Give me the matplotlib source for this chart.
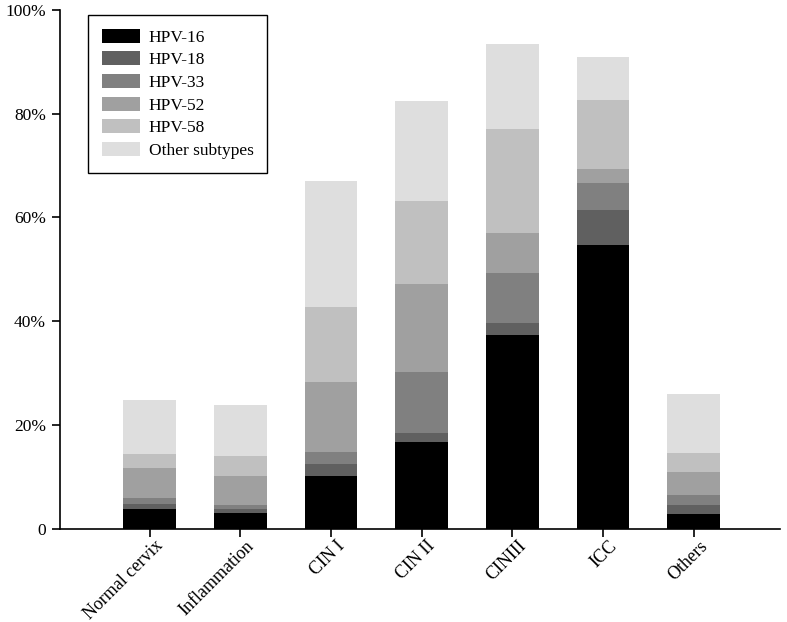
import numpy as np
import matplotlib
matplotlib.use('Agg')
import matplotlib.pyplot as plt
import matplotlib.transforms as mtransforms
from matplotlib.ticker import FuncFormatter

plt.rcParams['font.family'] = ['Liberation Serif', 'DejaVu Serif']

# groups along the x axis
groups = ['Normal cervix', 'Inflammation', 'CIN I', 'CIN II', 'CINIII', 'ICC', 'Others']

# percentage of each subtype per group (stacked)
hpv16 = [3.8, 3.0, 10.3, 16.8, 37.4, 54.7, 2.9]
hpv18 = [1.1, 0.8, 2.3, 1.6, 2.3, 6.7, 1.7]
hpv33 = [1.1, 0.8, 2.3, 11.9, 9.5, 5.3, 2.0]
hpv52 = [5.8, 5.7, 13.5, 16.8, 7.8, 2.7, 4.4]
hpv58 = [2.7, 3.8, 14.4, 16.0, 20.1, 13.2, 3.7]
other = [10.4, 9.7, 24.3, 19.4, 16.3, 8.2, 11.3]

series_names = ['HPV-16', 'HPV-18', 'HPV-33', 'HPV-52', 'HPV-58', 'Other subtypes']
series = [hpv16, hpv18, hpv33, hpv52, hpv58, other]
colors = ['#000000', '#606060', '#808080', '#a0a0a0', '#c0c0c0', '#dedede']

fig = plt.figure(figsize=(7.87, 6.22), dpi=100)
ax = fig.add_axes([0.076, 0.1495, 0.915, 0.835])

x = np.arange(len(groups))
bottom = np.zeros(len(groups))
for name, vals, c in zip(series_names, series, colors):
    ax.bar(x, vals, width=0.58, bottom=bottom, color=c, label=name, linewidth=0)
    bottom += np.array(vals)

ax.set_xlim(-0.99, 6.95)
ax.set_ylim(0, 100)
ax.set_yticks([0, 20, 40, 60, 80, 100])
ax.yaxis.set_major_formatter(FuncFormatter(lambda v, p: '0' if v == 0 else '%d%%' % v))
ax.set_xticks(x)
ax.set_xticklabels(groups, rotation=45, ha='right', va='top', rotation_mode='anchor')

for s in ['top', 'right']:
    ax.spines[s].set_visible(False)
ax.spines['left'].set_linewidth(1.2)
ax.spines['bottom'].set_linewidth(1.2)
ax.tick_params(axis='both', direction='out', length=6, width=1.2, labelsize=12.5, pad=4)
ax.tick_params(axis='x', labelsize=13, pad=3)

# nudge the rotated labels right and up a little, like the original
offset = mtransforms.ScaledTranslation(5 / 100, 4 / 100, fig.dpi_scale_trans)
for lab in ax.get_xticklabels():
    lab.set_transform(lab.get_transform() + offset)

leg = ax.legend(loc='upper left', bbox_to_anchor=(0.039, 0.99), borderaxespad=0,
                fancybox=False, framealpha=1, edgecolor='black', fontsize=12.5,
                handlelength=2.2, handleheight=0.85, labelspacing=0.33,
                handletextpad=0.5, borderpad=0.8)
leg.get_frame().set_linewidth(1.0)

fig.savefig('out.png', dpi=100)
